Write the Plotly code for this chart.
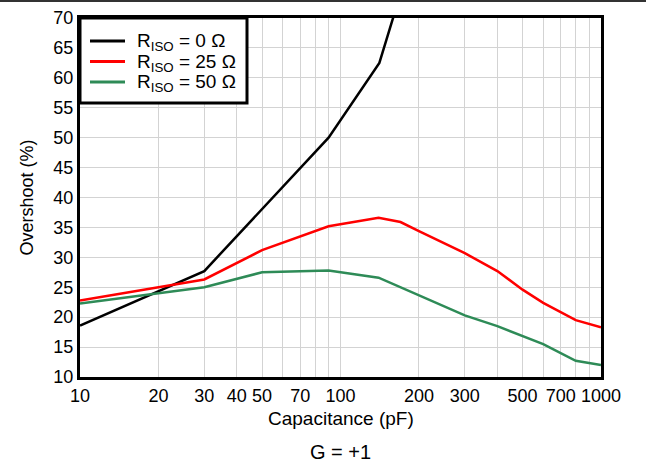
import plotly.graph_objects as go

cap_0 = [10, 30, 90, 141, 170]
ovs_0 = [18.6, 27.7, 50.0, 62.5, 74.1]

cap_25 = [10, 30, 50, 90, 140, 170, 200, 300, 400, 500, 600, 800, 1000]
ovs_25 = [22.8, 26.3, 31.2, 35.2, 36.6, 35.9, 34.4, 30.7, 27.7, 24.6, 22.4, 19.5, 18.3]

cap_50 = [10, 30, 50, 90, 140, 300, 400, 500, 600, 800, 1000]
ovs_50 = [22.3, 25.0, 27.5, 27.8, 26.6, 20.3, 18.5, 16.9, 15.5, 12.7, 12.0]

series_names = ["R<sub>ISO</sub> = 0 Ω", "R<sub>ISO</sub> = 25 Ω", "R<sub>ISO</sub> = 50 Ω"]
series_colors = ["#000000", "#FF0000", "#2E8B57"]

x_grid = [10, 20, 30, 40, 50, 60, 70, 80, 90, 100, 200, 300, 400, 500, 600, 700, 800, 900, 1000]
x_labeled = {10, 20, 30, 40, 50, 70, 100, 200, 300, 500, 700, 1000}
x_text = [str(v) if v in x_labeled else "" for v in x_grid]
y_ticks = list(range(10, 75, 5))

font = "Liberation Sans, Arial, sans-serif"

L, R, T, B = 80, 45, 18, 87
W, H = 646, 464
pw, ph = W - L - R, H - T - B


def px_x(p):
    return (p - L) / pw


def px_y(p):
    return 1 - (p - T) / ph


fig = go.Figure()
for xs, ys, nm, col in zip([cap_0, cap_25, cap_50], [ovs_0, ovs_25, ovs_50],
                           series_names, series_colors):
    fig.add_trace(go.Scatter(x=xs, y=ys, mode="lines", name=nm,
                             line=dict(color=col, width=2.5), showlegend=False))

fig.update_layout(
    width=W, height=H,
    margin=dict(l=L, r=R, t=T, b=B, autoexpand=False),
    paper_bgcolor="white", plot_bgcolor="white",
    font=dict(family=font, size=18, color="black"),
    showlegend=False,
)
fig.update_xaxes(type="log", range=[1, 3], tickvals=x_grid, ticktext=x_text,
                 showgrid=True, gridcolor="#D3D3D3", gridwidth=1,
                 showline=True, linecolor="black", linewidth=3, mirror=True,
                 ticks="", tickfont=dict(size=18), automargin=False)
fig.update_yaxes(range=[10, 70], tickvals=y_ticks,
                 showgrid=True, gridcolor="#D3D3D3", gridwidth=1,
                 showline=True, linecolor="black", linewidth=3, mirror=True,
                 ticks="", tickfont=dict(size=18), zeroline=False, automargin=False)

# axis titles and caption
fig.add_annotation(text="Capacitance (pF)", xref="paper", yref="paper",
                   x=0.5, y=px_y(418), showarrow=False, yanchor="middle",
                   font=dict(size=19, family=font))
fig.add_annotation(text="Overshoot (%)", xref="paper", yref="paper",
                   x=px_x(26), y=0.5, showarrow=False, textangle=-90,
                   xanchor="center", yanchor="middle",
                   font=dict(size=18, family=font))
fig.add_annotation(text="G = +1", xref="paper", yref="paper",
                   x=0.5, y=px_y(452), showarrow=False, yanchor="middle",
                   font=dict(size=20, family=font))

# legend box
fig.add_shape(type="rect", xref="paper", yref="paper", layer="above",
              x0=px_x(80), x1=px_x(247), y0=px_y(103), y1=px_y(18),
              fillcolor="white", line=dict(color="black", width=3))
row_y = [41, 61.5, 82]
for ry, nm, col in zip(row_y, series_names, series_colors):
    fig.add_shape(type="line", xref="paper", yref="paper", layer="above",
                  x0=px_x(90), x1=px_x(125), y0=px_y(ry), y1=px_y(ry),
                  line=dict(color=col, width=3))
    fig.add_annotation(text=nm, xref="paper", yref="paper",
                       x=px_x(135), y=px_y(ry + 1), xanchor="left", yanchor="middle",
                       showarrow=False, font=dict(size=19, family=font))

post = (
    "document.body.style.margin='0';document.body.style.padding='0';"
    "document.body.style.overflow='hidden';"
    "var rule=document.createElement('div');"
    "rule.style.cssText='position:fixed;left:0;top:0;width:100%;height:2px;"
    "background:#333333;z-index:1000;pointer-events:none;';"
    "document.body.appendChild(rule);"
)

fig.write_html("out.html", config={"displayModeBar": False}, post_script=post)
